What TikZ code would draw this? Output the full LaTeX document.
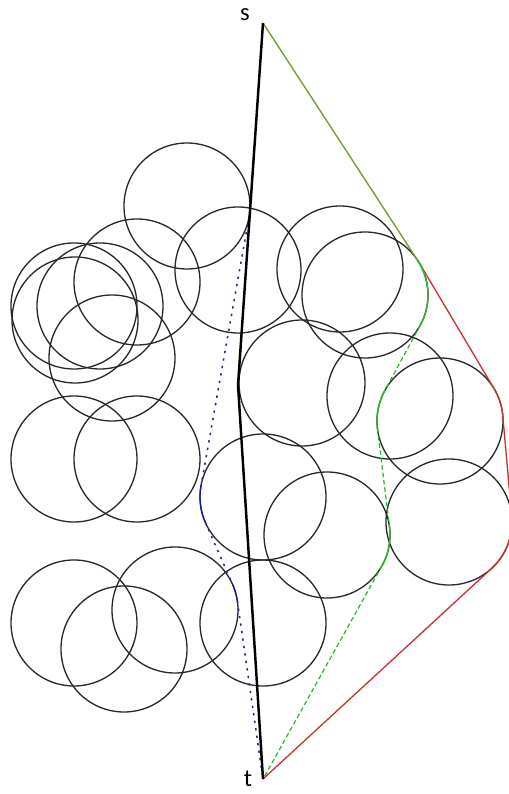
\documentclass[tikz,border=0pt]{standalone}
\usepackage{fontspec}
\setmainfont{Carlito}
\usetikzlibrary{calc}
\definecolor{ringgray}{RGB}{40,40,40}
\definecolor{leftblue}{RGB}{45,45,125}
\definecolor{arcblue}{RGB}{20,20,170}
\definecolor{rightred}{RGB}{200,50,50}
\definecolor{midgreen}{RGB}{40,185,40}
\definecolor{sharedolive}{RGB}{115,160,50}

\begin{document}
\begin{tikzpicture}[x=0.02cm,y=0.02cm,
  ring/.style={draw=ringgray, line width=0.75pt},
  straight/.style={line width=1.4pt, line join=round},
  bluedots/.style={leftblue, line width=0.9pt, dash pattern=on 1.3pt off 3pt},
  bluearc/.style={arcblue, line width=0.7pt},
  greendash/.style={midgreen, line width=0.7pt, dash pattern=on 2.6pt off 1.6pt},
  greenarc/.style={midgreen, line width=0.8pt},
  redline/.style={rightred, line width=0.75pt, line join=round},
  endlabel/.style={inner sep=0pt, font=\fontsize{14}{16}\selectfont}]
\useasboundingbox (0,0) rectangle (508,794);
\coordinate (C1) at (187,588) ;
\coordinate (C2) at (238,524) ;
\coordinate (C3) at (340,525) ;
\coordinate (C4) at (365,499) ;
\coordinate (C5) at (302,411) ;
\coordinate (C6) at (390,398) ;
\coordinate (C7) at (440,373) ;
\coordinate (C8) at (137,512) ;
\coordinate (C9) at (74,488) ;
\coordinate (C10) at (75,474) ;
\coordinate (C11) at (100,488) ;
\coordinate (C12) at (112,436) ;
\coordinate (C13) at (74,335) ;
\coordinate (C14) at (137,335) ;
\coordinate (C15) at (263,297) ;
\coordinate (C16) at (327,259) ;
\coordinate (C17) at (449,272) ;
\coordinate (C18) at (74,171) ;
\coordinate (C19) at (175,184) ;
\coordinate (C20) at (124,145) ;
\coordinate (C21) at (263,171) ;
\coordinate (S) at (263,771) ;
\coordinate (K) at (238,409) ;
\coordinate (T) at (263,15) ;
\node[endlabel] (s) at (245,779) {s};
\node[endlabel] (t) at (248,15) {t};
\foreach \c in {1,...,21}
  \draw[ring] (C\c) circle[radius=63];
% left route
\coordinate (B1) at ($(C1)+(-10.16:63)$) ;
\coordinate (B2) at ($(C15)+(169.84:63)$) ;
\coordinate (B3) at ($(C15)+(203.7:63)$) ;
\coordinate (B4) at ($(C19)+(23.7:63)$) ;
\coordinate (B5) at ($(C19)+(8.2:63)$) ;
\draw[bluedots] (B1) -- (B2) ;
\draw[bluearc] (B2) arc[start angle=169.84, end angle=203.7, radius=63] ;
\draw[bluedots] (B3) -- (B4) ;
\draw[bluearc] (B4) arc[start angle=23.7, end angle=8.2, radius=63] ;
\draw[bluedots] (B5) -- (T) ;
% right route
\coordinate (G0) at ($(C4)+(33.09:63)$) ;
\coordinate (R1) at ($(C7)+(30.76:63)$) ;
\coordinate (R2) at ($(C17)+(5.65:63)$) ;
\draw[redline] (G0) arc[start angle=33.09, end angle=30.76, radius=63] -- (R1)
   arc[start angle=30.76, end angle=5.65, radius=63] -- (R2)
   arc[start angle=5.65, end angle=-47.47, radius=63] -- (T) ;
% middle route
\coordinate (G1) at ($(C4)+(-28.44:63)$) ;
\coordinate (G2) at ($(C7)+(151.56:63)$) ;
\coordinate (G3) at ($(C7)+(186.98:63)$) ;
\coordinate (G4) at ($(C16)+(6.98:63)$) ;
\coordinate (G5) at ($(C16)+(-29.16:63)$) ;
\draw[greenarc] (G0) arc[start angle=33.09, end angle=-28.44, radius=63] ;
\draw[greendash] (G1) -- (G2) ;
\draw[greenarc] (G2) arc[start angle=151.56, end angle=186.98, radius=63] ;
\draw[greendash] (G3) -- (G4) ;
\draw[greenarc] (G4) arc[start angle=6.98, end angle=-29.16, radius=63] ;
\draw[greendash] (G5) -- (T) ;
\draw[sharedolive, line width=0.8pt] (S) -- (G0) ;
\draw[straight] (S) -- (K) -- (T) ;
\end{tikzpicture}
\end{document}
